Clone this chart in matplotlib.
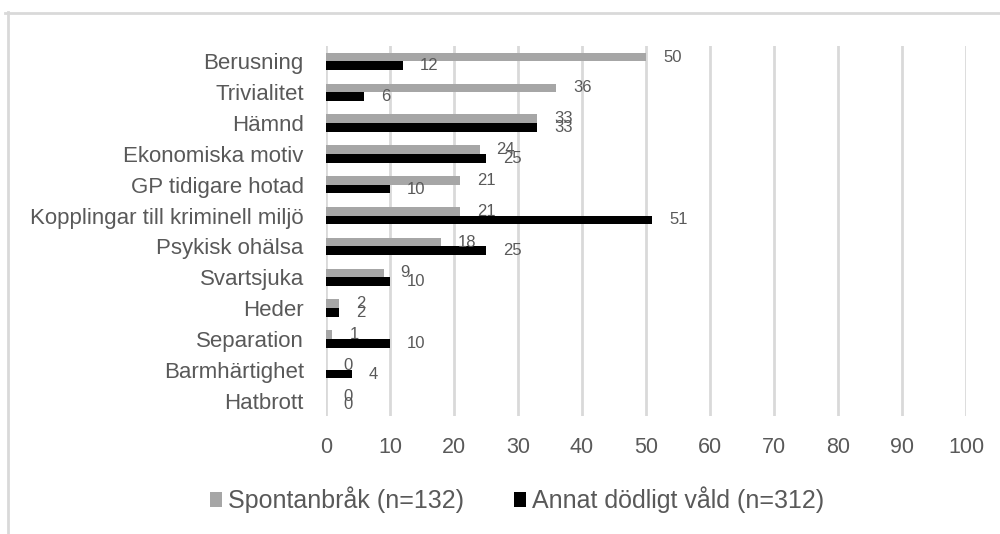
import matplotlib
matplotlib.use("Agg")
import matplotlib.pyplot as plt
from matplotlib.lines import Line2D
from matplotlib.patches import Patch
import numpy as np

categories = ["Berusning", "Trivialitet", "Hämnd", "Ekonomiska motiv",
              "GP tidigare hotad", "Kopplingar till kriminell miljö",
              "Psykisk ohälsa", "Svartsjuka", "Heder", "Separation",
              "Barmhärtighet", "Hatbrott"]
spontan = [50, 36, 33, 24, 21, 21, 18, 9, 2, 1, 0, 0]
annat = [12, 6, 33, 25, 10, 51, 25, 10, 2, 10, 4, 0]
series_names = ["Spontanbråk (n=132)", "Annat dödligt våld (n=312)"]
xticks = [0, 10, 20, 30, 40, 50, 60, 70, 80, 90, 100]

plt.rcParams['font.family'] = ['Liberation Sans', 'DejaVu Sans']
TXT = '#595959'
GRAY = '#A6A6A6'
GRID = '#D9D9D9'

fig = plt.figure(figsize=(10, 5.34), dpi=100)
ax = fig.add_axes([0.326, 1 - 416/534, 0.640, (416 - 46)/534])

y = np.arange(len(categories))
h = 0.28
ax.barh(y - h/2, spontan, height=h, color=GRAY, zorder=3)
ax.barh(y + h/2, annat, height=h, color='black', zorder=3)

for yi, v in zip(y, spontan):
    ax.annotate(str(v), (v, yi - h/2), xytext=(17, 0), textcoords='offset pixels',
                ha='left', va='center', fontsize=12, color=TXT, zorder=4)
for yi, v in zip(y, annat):
    ax.annotate(str(v), (v, yi + h/2), xytext=(17, 0), textcoords='offset pixels',
                ha='left', va='center', fontsize=12, color=TXT, zorder=4)

ax.set_xlim(0, 100)
ax.set_ylim(len(categories) - 0.5, -0.5)
ax.set_xticks(xticks)
ax.set_xticklabels([str(t) for t in xticks])
ax.set_yticks(y)
ax.set_yticklabels(categories)
ax.tick_params(axis='x', length=0, pad=15, labelsize=15.5, labelcolor=TXT)
ax.tick_params(axis='y', length=0, pad=16, labelsize=16, labelcolor=TXT)
ax.grid(axis='x', color=GRID, linewidth=2, zorder=0)
for s in ax.spines.values():
    s.set_visible(False)

handles = [Patch(facecolor=GRAY, edgecolor='none'), Patch(facecolor='black', edgecolor='none')]
fig.legend(handles, series_names, loc='center', bbox_to_anchor=(0.517, 1 - 500/534),
           ncol=2, frameon=False, fontsize=18, labelcolor=TXT,
           handlelength=0.5, handleheight=0.5, handletextpad=0.22, columnspacing=2.0)

# chart border (left and top)
fig.add_artist(Line2D([8/1000, 8/1000], [0, 1 - 12/534], transform=fig.transFigure,
                      color=GRID, linewidth=2))
fig.add_artist(Line2D([5/1000, 1], [1 - 13/534, 1 - 13/534], transform=fig.transFigure,
                      color=GRID, linewidth=2))

fig.savefig("out.png", dpi=100)
